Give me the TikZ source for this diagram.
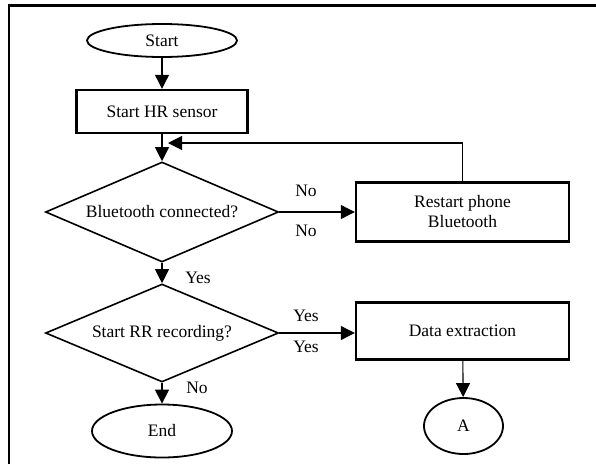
\documentclass[tikz,border=0pt]{standalone}
\usepackage{fontspec}
\setmainfont{Liberation Serif}
\usetikzlibrary{shapes.geometric,arrows.meta}
\begin{document}
\begin{tikzpicture}[x=1pt,y=-1pt,
  every node/.style={font=\fontsize{17.5}{20}\selectfont, inner sep=0pt},
  term/.style={ellipse, draw, line width=1.8pt},
  proc/.style={rectangle, draw, line width=2.4pt, align=center},
  dec/.style={diamond, draw, line width=1.6pt, shape aspect=2.33},
  conn/.style={draw, line width=1.1pt, -{Triangle[length=14pt,width=14pt]}},
  lbl/.style={}
]
\useasboundingbox (0,0) rectangle (596,464);
\draw[line width=2.2pt] (9,464) -- (9,5.5) -- (596,5.5);

\node[term, minimum width=150pt, minimum height=33pt] (start) at (162,40.5) {Start};
\node[proc, minimum width=171pt, minimum height=43pt] (hr) at (162,111.5) {Start HR sensor};
\node[dec, minimum width=233pt, minimum height=100pt] (d1) at (162,212) {Bluetooth connected?};
\node[proc, minimum width=213pt, minimum height=59pt] (restart) at (462.5,212) {Restart phone\\Bluetooth};
\node[dec, minimum width=233pt, minimum height=98pt] (d2) at (162,333) {Start RR recording?};
\node[proc, minimum width=213pt, minimum height=57pt] (data) at (462.5,331) {Data extraction};
\node[term, minimum width=79pt, minimum height=56pt] (A) at (463.5,426) {A};
\node[term, minimum width=140pt, minimum height=53pt] (end) at (162,431) {End};

\coordinate (loopend) at (168,143);

\draw[conn] (start) -- (hr);
\draw[conn] (hr) -- (d1);
\draw[conn] (restart.north) |- (loopend);
\draw[conn] (d1.east) -- (restart.west);
\draw[conn] (d1.south) -- (d2.north);
\draw[conn] (d2.east) -- (d2.east -| data.west);
\draw[conn] (data) -- (A);
\draw[conn] (d2.south) -- (end.north);

\node[lbl] (no1) at (306,191) {No};
\node[lbl] (no2) at (306,231) {No};
\node[lbl] (yes1) at (198,278) {Yes};
\node[lbl] (yes2) at (306,316) {Yes};
\node[lbl] (yes3) at (306,347) {Yes};
\node[lbl] (no3) at (197,388) {No};
\end{tikzpicture}
\end{document}
